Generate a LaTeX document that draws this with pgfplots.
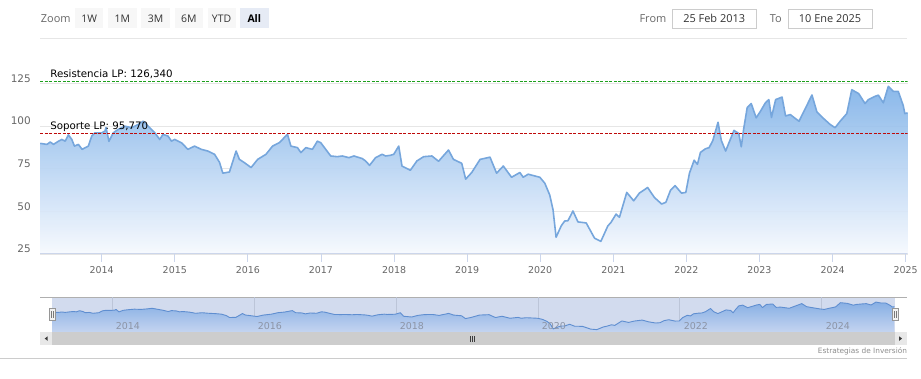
\documentclass[border=0pt]{standalone}
\usepackage{pgfplots}
\pgfplotsset{compat=1.18}
\usepackage{pgfplotstable}
\usepackage{fontspec}
\setmainfont{DejaVu Sans}
\newfontfamily\hdr{Open Sans}

\definecolor{gridc}{RGB}{230,230,230}
\definecolor{axc}{RGB}{204,214,235}
\definecolor{lab}{RGB}{102,102,102}
\definecolor{linec}{RGB}{118,166,220}
\definecolor{areatop}{RGB}{128,178,232}
\definecolor{areabot}{RGB}{246,249,254}
\definecolor{resc}{RGB}{30,160,30}
\definecolor{supc}{RGB}{190,10,10}
\definecolor{navmask}{RGB}{210,219,238}
\definecolor{navline}{RGB}{95,142,208}
\definecolor{navtop}{RGB}{135,175,228}
\definecolor{navbot}{RGB}{196,212,240}
\definecolor{navgrid}{RGB}{188,197,216}
\definecolor{navlab}{RGB}{140,148,165}
\definecolor{btn}{RGB}{247,247,247}
\definecolor{btnsel}{RGB}{230,235,245}
\definecolor{boxc}{RGB}{204,204,204}
\definecolor{txt}{RGB}{51,51,51}
\definecolor{outl}{RGB}{175,175,175}
\definecolor{hfill}{RGB}{242,242,242}
\definecolor{hdraw}{RGB}{150,150,150}
\definecolor{hgrip}{RGB}{120,120,120}
\definecolor{sbar}{RGB}{205,205,205}
\definecolor{sbtn}{RGB}{232,232,232}
\definecolor{sarrow}{RGB}{60,60,60}
\definecolor{footl}{RGB}{204,204,204}
\definecolor{cred}{RGB}{140,140,140}

\pgfplotstableread{
x y
2013.159 89.9
2013.251 89.3
2013.296 90.7
2013.341 89.3
2013.409 91.2
2013.455 92.2
2013.500 91.2
2013.545 94.9
2013.591 92.2
2013.627 88.3
2013.681 89.3
2013.732 86.4
2013.817 88.3
2013.864 94.2
2013.909 96.1
2014.000 96.1
2014.045 97.1
2014.059 99.2
2014.099 91.1
2014.158 96.1
2014.226 98.1
2014.317 100.0
2014.409 99.1
2014.499 101.0
2014.567 102.9
2014.635 100.0
2014.726 96.1
2014.794 92.2
2014.839 95.2
2014.907 94.2
2014.954 91.2
2014.999 92.2
2015.090 90.3
2015.180 86.4
2015.271 88.3
2015.362 86.4
2015.452 85.4
2015.544 83.5
2015.612 78.8
2015.657 72.4
2015.748 73.1
2015.839 85.4
2015.884 80.5
2015.952 78.6
2016.044 75.7
2016.134 80.5
2016.248 83.5
2016.338 88.3
2016.429 90.3
2016.542 95.2
2016.589 88.3
2016.679 87.4
2016.725 84.5
2016.793 87.4
2016.883 86.4
2016.951 91.2
2016.997 90.3
2017.065 86.4
2017.134 82.5
2017.223 82.1
2017.292 82.5
2017.383 81.5
2017.451 82.5
2017.564 81.0
2017.610 79.6
2017.665 77.0
2017.747 81.5
2017.837 83.5
2017.883 82.5
2017.951 82.9
2017.996 83.5
2018.064 88.3
2018.109 76.6
2018.223 74.1
2018.313 79.6
2018.405 82.1
2018.518 82.5
2018.609 79.4
2018.745 86.0
2018.813 80.5
2018.926 78.2
2018.980 68.9
2019.063 72.8
2019.177 80.5
2019.313 81.8
2019.403 72.4
2019.495 76.6
2019.608 70.0
2019.722 72.8
2019.767 70.0
2019.835 71.8
2019.995 70.0
2020.063 66.5
2020.131 59.5
2020.176 50.8
2020.217 34.8
2020.289 41.6
2020.335 44.3
2020.380 44.5
2020.448 50.2
2020.516 43.8
2020.629 43.2
2020.744 34.2
2020.830 32.4
2020.925 41.4
2020.970 43.6
2021.038 48.4
2021.084 46.5
2021.184 61.1
2021.279 56.2
2021.357 60.7
2021.470 64.0
2021.561 58.2
2021.661 54.3
2021.719 55.3
2021.783 62.4
2021.845 65.1
2021.933 60.7
2021.992 61.1
2022.042 72.4
2022.106 80.0
2022.151 77.6
2022.192 84.6
2022.260 86.7
2022.311 87.4
2022.362 91.6
2022.433 102.3
2022.478 91.6
2022.537 85.4
2022.601 92.2
2022.651 97.5
2022.717 95.7
2022.751 87.9
2022.785 98.7
2022.832 110.9
2022.887 113.3
2022.955 104.9
2023.014 108.8
2023.082 113.8
2023.128 115.6
2023.164 105.1
2023.221 115.6
2023.309 117.1
2023.357 106.0
2023.422 106.8
2023.473 105.1
2023.541 102.9
2023.609 108.8
2023.718 118.3
2023.786 108.3
2023.877 104.5
2023.967 101.0
2024.035 99.1
2024.104 102.9
2024.195 107.4
2024.263 121.4
2024.358 119.1
2024.444 113.3
2024.490 115.6
2024.580 117.5
2024.627 118.2
2024.695 113.7
2024.763 123.4
2024.831 120.4
2024.899 120.4
2024.967 112.1
2024.989 107.4
2025.026 107.8
}\maindata

% same series closed on the baseline (25) for the filled area
\pgfplotstableread{
x y
2013.159 25
2013.159 89.9
2013.251 89.3
2013.296 90.7
2013.341 89.3
2013.409 91.2
2013.455 92.2
2013.500 91.2
2013.545 94.9
2013.591 92.2
2013.627 88.3
2013.681 89.3
2013.732 86.4
2013.817 88.3
2013.864 94.2
2013.909 96.1
2014.000 96.1
2014.045 97.1
2014.059 99.2
2014.099 91.1
2014.158 96.1
2014.226 98.1
2014.317 100.0
2014.409 99.1
2014.499 101.0
2014.567 102.9
2014.635 100.0
2014.726 96.1
2014.794 92.2
2014.839 95.2
2014.907 94.2
2014.954 91.2
2014.999 92.2
2015.090 90.3
2015.180 86.4
2015.271 88.3
2015.362 86.4
2015.452 85.4
2015.544 83.5
2015.612 78.8
2015.657 72.4
2015.748 73.1
2015.839 85.4
2015.884 80.5
2015.952 78.6
2016.044 75.7
2016.134 80.5
2016.248 83.5
2016.338 88.3
2016.429 90.3
2016.542 95.2
2016.589 88.3
2016.679 87.4
2016.725 84.5
2016.793 87.4
2016.883 86.4
2016.951 91.2
2016.997 90.3
2017.065 86.4
2017.134 82.5
2017.223 82.1
2017.292 82.5
2017.383 81.5
2017.451 82.5
2017.564 81.0
2017.610 79.6
2017.665 77.0
2017.747 81.5
2017.837 83.5
2017.883 82.5
2017.951 82.9
2017.996 83.5
2018.064 88.3
2018.109 76.6
2018.223 74.1
2018.313 79.6
2018.405 82.1
2018.518 82.5
2018.609 79.4
2018.745 86.0
2018.813 80.5
2018.926 78.2
2018.980 68.9
2019.063 72.8
2019.177 80.5
2019.313 81.8
2019.403 72.4
2019.495 76.6
2019.608 70.0
2019.722 72.8
2019.767 70.0
2019.835 71.8
2019.995 70.0
2020.063 66.5
2020.131 59.5
2020.176 50.8
2020.217 34.8
2020.289 41.6
2020.335 44.3
2020.380 44.5
2020.448 50.2
2020.516 43.8
2020.629 43.2
2020.744 34.2
2020.830 32.4
2020.925 41.4
2020.970 43.6
2021.038 48.4
2021.084 46.5
2021.184 61.1
2021.279 56.2
2021.357 60.7
2021.470 64.0
2021.561 58.2
2021.661 54.3
2021.719 55.3
2021.783 62.4
2021.845 65.1
2021.933 60.7
2021.992 61.1
2022.042 72.4
2022.106 80.0
2022.151 77.6
2022.192 84.6
2022.260 86.7
2022.311 87.4
2022.362 91.6
2022.433 102.3
2022.478 91.6
2022.537 85.4
2022.601 92.2
2022.651 97.5
2022.717 95.7
2022.751 87.9
2022.785 98.7
2022.832 110.9
2022.887 113.3
2022.955 104.9
2023.014 108.8
2023.082 113.8
2023.128 115.6
2023.164 105.1
2023.221 115.6
2023.309 117.1
2023.357 106.0
2023.422 106.8
2023.473 105.1
2023.541 102.9
2023.609 108.8
2023.718 118.3
2023.786 108.3
2023.877 104.5
2023.967 101.0
2024.035 99.1
2024.104 102.9
2024.195 107.4
2024.263 121.4
2024.358 119.1
2024.444 113.3
2024.490 115.6
2024.580 117.5
2024.627 118.2
2024.695 113.7
2024.763 123.4
2024.831 120.4
2024.899 120.4
2024.967 112.1
2024.989 107.4
2025.026 107.8
2025.026 25
}\areadata

\begin{document}
\begin{tikzpicture}
\begin{scope}[x=1pt,y=1pt]
\useasboundingbox (0,0) rectangle (921,380);

% ---------- header ----------
\node[anchor=west, inner sep=0, text=lab, font=\hdr\fontsize{11}{13}\selectfont] at (40.5,361) {Zoom};
\foreach \xa/\xb/\t in {75/103.3/1W, 108.3/136.7/1M, 141.7/170/3M, 175/203.3/6M, 208/236.3/YTD}{
  \fill[btn] (\xa,351.7) rectangle (\xb,371.7);
  \node[text=txt, inner sep=0, font=\hdr\fontsize{10.5}{12}\selectfont] at ({(\xa+\xb)/2},361.5) {\t};
}
\fill[btnsel] (240.7,351.7) rectangle (269.3,371.7);
\node[text=black, inner sep=0, font=\hdr\bfseries\fontsize{10.5}{12}\selectfont] at (255,361.5) {All};

\node[anchor=west, inner sep=0, text=lab, font=\hdr\fontsize{11}{13}\selectfont] at (641.7,361) {From};
\draw[boxc, fill=white] (674.3,351.7) rectangle (759.3,370.7);
\node[text=txt, inner sep=0, font=\hdr\fontsize{11}{13}\selectfont] at (716.8,361.2) {25 Feb 2013};
\node[anchor=west, inner sep=0, text=lab, font=\hdr\fontsize{11}{13}\selectfont] at (772.5,361) {To};
\draw[boxc, fill=white] (790.7,351.7) rectangle (875.7,370.7);
\node[text=txt, inner sep=0, font=\hdr\fontsize{11}{13}\selectfont] at (833.2,361.2) {10 Ene 2025};
\draw[gridc, line width=0.8pt] (40,341) -- (910,341);

% navigator background and outline
\fill[navmask] (52,46.7) rectangle (898,81.7);
\draw[outl, line width=0.8pt] (40,81.7) -- (910,81.7);
\end{scope}

% ---------- main chart ----------
\begin{axis}[
  at={(40pt,125pt)}, anchor=south west, scale only axis,
  width=871pt, height=195pt,
  xmin=2013.159, xmax=2025.026, ymin=25, ymax=139,
  axis line style={draw=none},
  xtick={2014,2015,2016,2017,2018,2019,2020,2021,2022,2023,2024,2025},
  xticklabels={2014,2015,2016,2017,2018,2019,2020,2021,2022,2023,2024,2025},
  ytick={25,50,75,100,125},
  yticklabels={25,50,75,100,125},
  ymajorgrids, grid style={draw=gridc, line width=0.8pt},
  xtick pos=bottom, ytick pos=left,
  xtick align=outside,
  major tick length=8pt,
  x tick style={draw=axc, line width=0.8pt},
  y tick style={draw=none},
  xticklabel style={font=\fontsize{9.5}{11}\selectfont, text=lab, yshift=-1.5pt},
  yticklabel style={font=\fontsize{10.5}{12}\selectfont, text=lab, yshift=5pt, xshift=-6pt},
]
\addplot[draw=none, top color=areatop, bottom color=areabot, fill opacity=0.92] table {\areadata};
\addplot[linec, line width=1.6pt, line join=round] table {\maindata};
\addplot[resc, line width=1pt, dash pattern=on 3pt off 1.5pt] coordinates {(2013.159,126.34) (2025.026,126.34)};
\addplot[supc, line width=1pt, dash pattern=on 3pt off 1.5pt] coordinates {(2013.159,95.77) (2025.026,95.77)};
\node[anchor=base west, inner sep=0, yshift=3.4pt, font=\fontsize{10.3}{12}\selectfont] at (axis cs:2013.295,126.34) {Resistencia LP: 126,340};
\node[anchor=base west, inner sep=0, yshift=3.4pt, font=\fontsize{10.3}{12}\selectfont] at (axis cs:2013.295,95.77) {Soporte LP: 95,770};
\draw[axc, line width=1.5pt] (rel axis cs:0,0) -- (rel axis cs:1,0);
\end{axis}

% ---------- navigator ----------
\begin{axis}[
  at={(52pt,46.7pt)}, anchor=south west, scale only axis,
  width=846pt, height=35pt,
  xmin=2013.159, xmax=2025.026, ymin=25, ymax=140,
  axis line style={draw=none},
  xtick={2014,2016,2018,2020,2022,2024}, xticklabels={},
  ytick=\empty,
  xmajorgrids, grid style={draw=navgrid, line width=0.6pt},
  major tick length=0pt,
]
\addplot[draw=none, top color=navtop, bottom color=navbot] table {\areadata};
\addplot[navline, line width=0.9pt, line join=round] table {\maindata};
\pgfplotsinvokeforeach{2014,2016,2018,2020,2022,2024}{
  \node[anchor=base west, inner sep=0, xshift=3.8pt, yshift=2.6pt, text=navlab, font=\fontsize{9.5}{11}\selectfont] at (axis cs:#1,25) {#1};
}
\end{axis}

\begin{scope}[x=1pt,y=1pt]
% handles
\draw[fill=hfill, draw=hdraw, line width=0.6pt] (49,58.3) rectangle (55.5,70.7);
\draw[hgrip, line width=0.5pt] (51.3,61) -- (51.3,68) (53.2,61) -- (53.2,68);
\draw[fill=hfill, draw=hdraw, line width=0.6pt] (895.5,58.3) rectangle (902,70.7);
\draw[hgrip, line width=0.5pt] (897.8,61) -- (897.8,68) (899.7,61) -- (899.7,68);

% ---------- scrollbar ----------
\fill[sbar] (52,33.3) rectangle (898,46.7);
\fill[sbtn] (40,33.3) rectangle (52,46.7);
\fill[sbtn] (898,33.3) rectangle (910,46.7);
\fill[sarrow] (44.5,40) -- (47.5,42.3) -- (47.5,37.7) -- cycle;
\fill[sarrow] (905.5,40) -- (902.5,42.3) -- (902.5,37.7) -- cycle;
\draw[sarrow, line width=0.6pt] (471.5,37) -- (471.5,43) (473.5,37) -- (473.5,43) (475.5,37) -- (475.5,43);

% ---------- footer ----------
\draw[footl, line width=0.8pt] (0,20) -- (910,20);
\node[anchor=east, inner sep=0, text=cred, font=\fontsize{7.4}{9}\selectfont] at (910.7,26.7) {Estrategias de Inversión};
\end{scope}
\end{tikzpicture}
\end{document}
